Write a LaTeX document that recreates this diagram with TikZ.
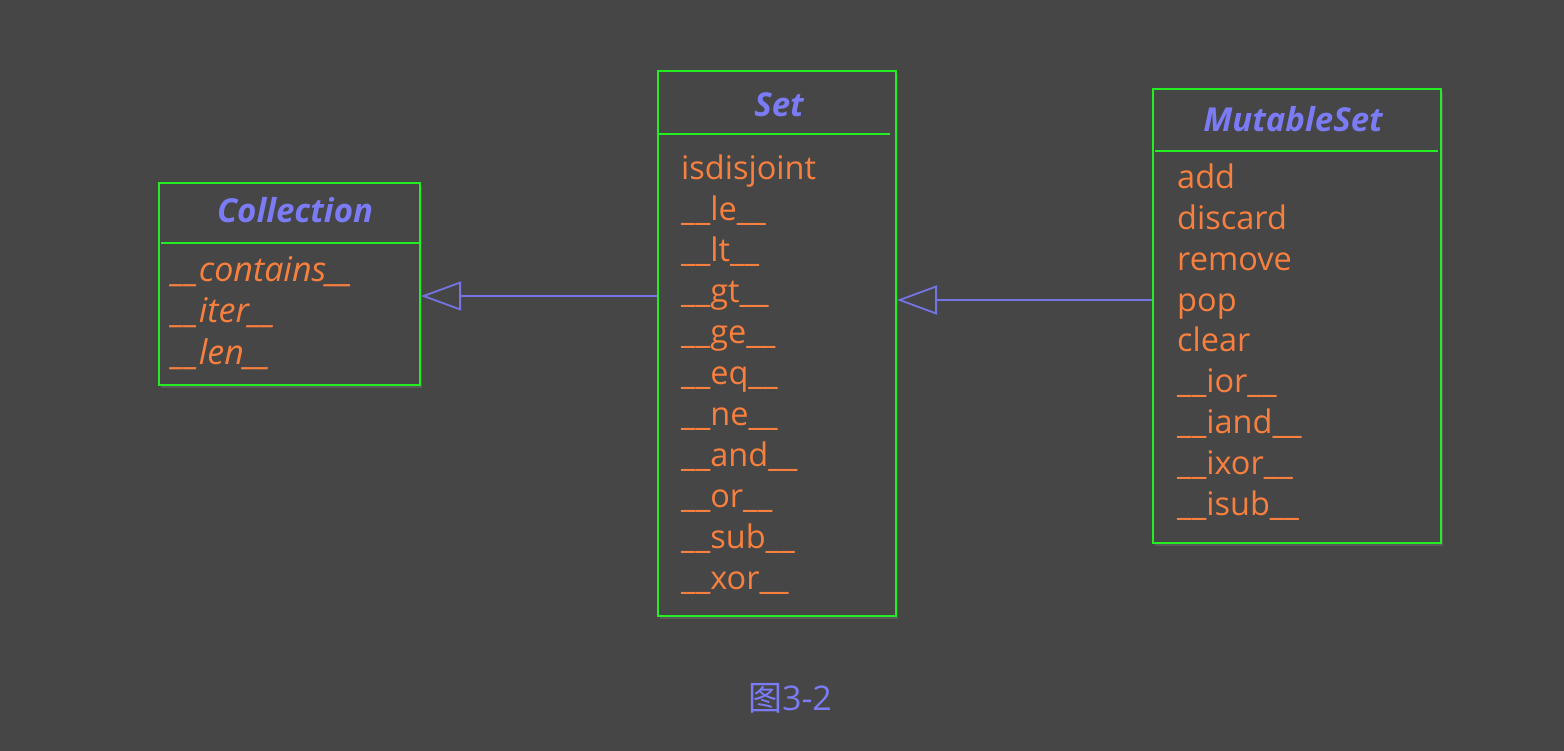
\documentclass[tikz,border=0pt]{standalone}
\usepackage{fontspec}
\setmainfont{Open Sans}
\newfontfamily\cjkfont{Noto Sans CJK SC}
\usetikzlibrary{arrows.meta,shadows}

\definecolor{bgcol}{HTML}{464646}
\definecolor{boxgreen}{HTML}{22EE22}
\definecolor{titleblue}{HTML}{7B7BF5}
\definecolor{itemorange}{HTML}{F8803F}
\definecolor{arrowblue}{HTML}{7474E4}

\tikzset{
    classbox/.style={draw=boxgreen, line width=2pt, fill=bgcol, anchor=north west,
        drop shadow={opacity=0.35, shadow xshift=2pt, shadow yshift=-3pt}},
    sep/.style={boxgreen, line width=2pt},
    title/.style={anchor=base, text=titleblue, font=\fontsize{33}{38}\selectfont\bfseries\itshape},
    item/.style={anchor=base west, text=itemorange, inner sep=0pt, font=\fontsize{32.5}{38}\selectfont},
    inh/.style={arrowblue, line width=1.8pt,
        -{Triangle[open, length=40pt, width=29pt, fill=bgcol]}},
}

\begin{document}
\begin{tikzpicture}[x=1pt, y=-1pt]

    % 背景与边界
    \fill[bgcol] (0,0) rectangle (1564,751);
    \useasboundingbox (0,0) rectangle (1564,751);

    % ---------- Collection ----------
    \node[classbox, minimum width=261pt, minimum height=202pt] (coll) at (158,182) {};
    \node[title] (colltitle) at (295,223) {Collection};
    \draw[sep] (161,243) -- (419,243);
    \foreach \lbl [count=\i] in {contains, iter, len}{
        \node[item, font=\fontsize{34}{38}\selectfont\itshape] (collitem\i) at (172, {282+(\i-1)*41}) {\_\_\lbl\_\_};
    }

    % ---------- Set ----------
    \node[classbox, minimum width=238pt, minimum height=545pt] (set) at (657,70) {};
    \node[title] (settitle) at (779,117) {Set};
    \draw[sep] (659,134) -- (890,134);
    \foreach \lbl [count=\i] in {
        isdisjoint, \_\_le\_\_, \_\_lt\_\_, \_\_gt\_\_, \_\_ge\_\_, \_\_eq\_\_,
        \_\_ne\_\_, \_\_and\_\_, \_\_or\_\_, \_\_sub\_\_, \_\_xor\_\_
    }{
        \node[item] (setitem\i) at (681, {180+(\i-1)*40.9}) {\lbl};
    }

    % ---------- MutableSet ----------
    \node[classbox, minimum width=288pt, minimum height=454pt] (mset) at (1152,88) {};
    \node[title] (msettitle) at (1293,132) {MutableSet};
    \draw[sep] (1155,151) -- (1438,151);
    \foreach \lbl [count=\i] in {
        add, discard, remove, pop, clear,
        \_\_ior\_\_, \_\_iand\_\_, \_\_ixor\_\_, \_\_isub\_\_
    }{
        \node[item] (msetitem\i) at (1177, {189+(\i-1)*40.75}) {\lbl};
    }

    % ---------- 继承箭头 ----------
    \coordinate (setleft) at (657,296);
    \coordinate (msetleft) at (1152,300);
    \draw[inh] (setleft) -- (coll.east |- setleft);
    \draw[inh] (msetleft) -- (set.east |- msetleft);

    % 图题
    \node[anchor=base, text=titleblue, font=\fontsize{34}{40}\selectfont] (caption) at (790,710) {{\cjkfont 图}3-2};

\end{tikzpicture}
\end{document}
